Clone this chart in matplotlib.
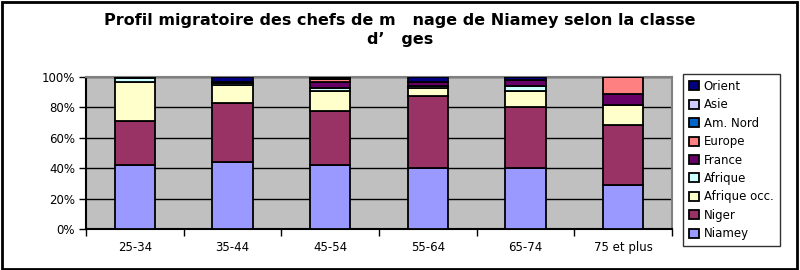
import matplotlib
matplotlib.use("Agg")
import matplotlib.pyplot as plt
from matplotlib.patches import Rectangle
from matplotlib.ticker import PercentFormatter, FixedLocator
import numpy as np

plt.rcParams['font.family'] = ['DejaVu Sans']

# Data (percent of household heads per age class)
categories = ['25-34', '35-44', '45-54', '55-64', '65-74', '75 et plus']
niamey = [42, 44, 42, 40, 40, 29]
niger = [29, 39, 35.5, 47.5, 40.5, 39.5]
afrique_occ = [26, 12, 13.5, 5.5, 10, 13]
afrique = [2, 1, 1.5, 1, 3.5, 0]
france = [0, 1, 4.5, 2.5, 4, 7]
europe = [0, 0, 1.5, 0, 0, 11.5]
am_nord = [0, 0, 0, 0, 0, 0]
asie = [0.5, 0, 0.5, 0, 0, 0]
orient = [0.5, 3, 1, 3.5, 2, 0]

series_names = ['Niamey', 'Niger', 'Afrique occ.', 'Afrique', 'France',
                'Europe', 'Am. Nord', 'Asie', 'Orient']
series_values = [niamey, niger, afrique_occ, afrique, france,
                 europe, am_nord, asie, orient]
colors = ['#9999FF', '#993366', '#FFFFCC', '#CCFFFF', '#660066',
          '#FF8080', '#0066CC', '#CCCCFF', '#000080']

fig = plt.figure(figsize=(8, 2.7), dpi=100)
ax = fig.add_axes([0.1075, 0.152, 0.7325, 0.563])
ax.set_facecolor('#C0C0C0')

x = np.arange(len(categories))
bottom = np.zeros(len(categories))
handles = []
for name, vals, col in zip(series_names, series_values, colors):
    vals = np.array(vals, dtype=float)
    b = ax.bar(x, vals, bottom=bottom, width=0.41, color=col,
               edgecolor='black', linewidth=1.3, label=name, zorder=3)
    handles.append(b)
    bottom += vals

ax.set_xlim(-0.5, len(categories) - 0.5)
ax.set_ylim(0, 100)
ax.yaxis.set_major_locator(FixedLocator([0, 20, 40, 60, 80, 100]))
ax.yaxis.set_major_formatter(PercentFormatter(decimals=0))
ax.grid(axis='y', color='black', linewidth=1, zorder=1)

# category labels centred, ticks on the boundaries
ax.set_xticks(x)
ax.set_xticklabels(categories)
ax.tick_params(axis='x', length=0, labelsize=8.5, pad=9)
ax.set_xticks(np.arange(len(categories) + 1) - 0.5, minor=True)
ax.tick_params(axis='x', which='minor', length=5, width=1, direction='out')
ax.tick_params(axis='y', length=5, width=1, labelsize=8.5, pad=3)

ax.spines['left'].set_color('black')
ax.spines['bottom'].set_color('black')
ax.spines['top'].set_color('#808080')
ax.spines['right'].set_color('#808080')
for s in ax.spines.values():
    s.set_linewidth(1.5)

fig.text(0.5, 0.925, "Profil migratoire des chefs de m   nage de Niamey selon la classe",
         ha='center', va='center', fontsize=11.5, fontweight='bold')
fig.text(0.5, 0.852, "d’   ges", ha='center', va='center',
         fontsize=11.5, fontweight='bold')

leg = fig.legend(handles[::-1], series_names[::-1], loc='upper left',
                 bbox_to_anchor=(0.854, 0.726), fontsize=8.5,
                 frameon=True, fancybox=False, edgecolor='black',
                 handlelength=0.8, handleheight=0.8, handletextpad=0.45,
                 labelspacing=0.46, borderpad=0.5, borderaxespad=0)
leg.get_frame().set_linewidth(1)

# outer chart frame
fig.patches.append(Rectangle((0.002, 0.004), 0.994, 0.99, transform=fig.transFigure,
                             fill=False, edgecolor='black', linewidth=2))

fig.savefig('out.png', dpi=100)
